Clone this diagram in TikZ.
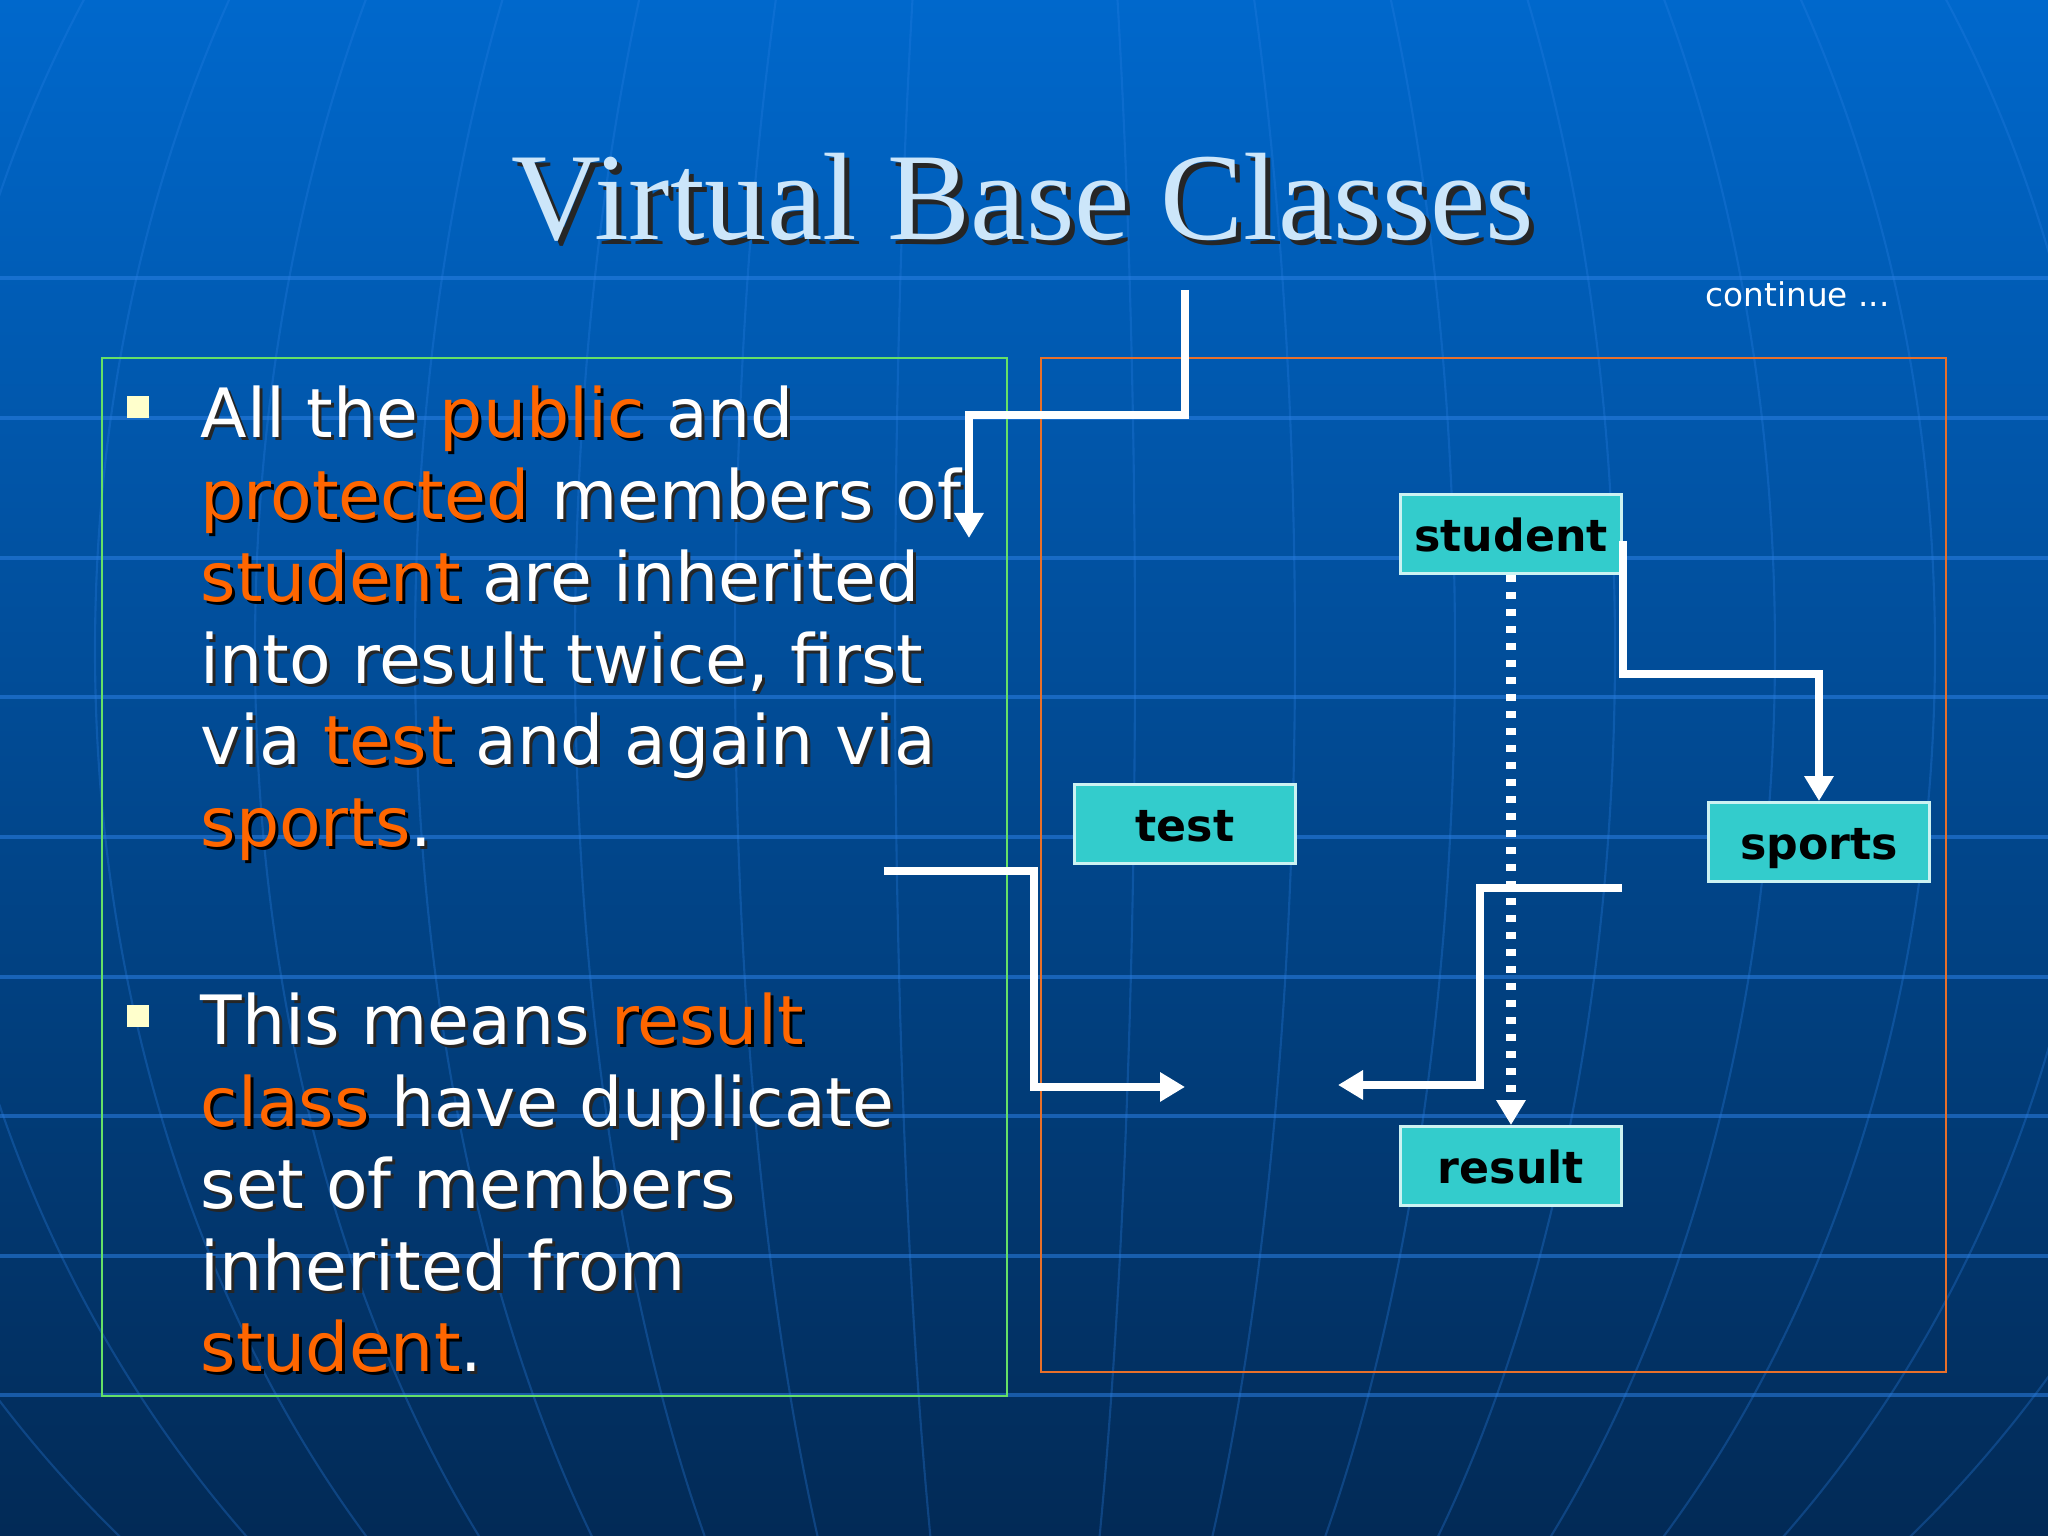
\documentclass[tikz,border=0pt]{standalone}
\usepackage{fontspec}
\setmainfont{DejaVu Sans}
\newfontfamily\titlefont{Liberation Serif}
\usetikzlibrary{arrows.meta,positioning}
\definecolor{bgtop}{HTML}{0068CC}
\definecolor{bgbot}{HTML}{022A56}
\definecolor{gridblue}{HTML}{2B80E4}
\definecolor{stitle}{HTML}{CCE6FA}
\definecolor{sorange}{HTML}{FF6600}
\definecolor{sgreen}{HTML}{66E066}
\definecolor{sframe}{HTML}{E8702A}
\definecolor{sbox}{HTML}{33CCCC}
\definecolor{sbullet}{HTML}{FFFFCC}
\colorlet{accent}{sorange}
\newcommand{\hl}[1]{\textcolor{accent}{#1}}
\newcommand{\pointone}{\parbox[t]{8.5cm}{\raggedright All the \hl{public} and\\
  \hl{protected} members of\\ \hl{student} are inherited\\ into result twice, first\\
  via \hl{test} and again via\\ \hl{sports}.}}
\newcommand{\pointtwo}{\parbox[t]{8.5cm}{\raggedright This means \hl{result}\\
  \hl{class} have duplicate\\ set of members\\ inherited from\\ \hl{student}.}}

\begin{document}
\begin{tikzpicture}[
  txt/.style={anchor=base west, inner sep=0pt, text=white, font=\fontsize{19.35}{23.25}\selectfont},
  drop/.style={text=black!85},
  heading/.style={anchor=base, inner sep=0pt, text=stitle, font=\titlefont\fontsize{35.4}{42}\selectfont},
  cls/.style={draw=white!75!sbox, line width=0.8pt, fill=sbox, minimum width=2.21cm, minimum height=0.79cm, inner sep=0pt, text height=0.45cm, text depth=0.10cm, font=\bfseries\fontsize{12.6}{15}\selectfont},
  sq/.style={fill=sbullet, minimum size=0.22cm, inner sep=0pt},
  arr/.style={white, line width=2.4pt, -{Triangle[width=0.28cm, length=0.25cm]}},
  dotarr/.style={arr, line width=2.6pt, dash pattern=on 0.07cm off 0.10cm},
  latline/.style={gridblue, line width=1pt, opacity=0.55},
  lonline/.style={gridblue, line width=0.6pt, opacity=0.3},
]
  \useasboundingbox (0,0) rectangle (20.48,15.36);
  \fill[top color=bgtop, bottom color=bgbot] (0,0) rectangle (20.48,15.36);

  \begin{scope}
    \clip (0,0) rectangle (20.48,15.36);
    \foreach \y in {12.58,11.18,9.78,8.39,6.99,5.59,4.20,2.80,1.41}
      \draw[latline] (0,\y) -- (20.48,\y);
    \foreach \r in {1.2,2.8,4.4,6.0,7.6,9.2,10.9,12.7}
      \draw[lonline] (10.15,8.86) ellipse [x radius=\r, y radius=12.5];
  \end{scope}

  \node[heading, drop] at (10.28,12.91) {Virtual Base Classes};
  \node[heading] (title) at (10.23,12.96) {Virtual Base Classes};
  \node[anchor=base west, inner sep=0pt, text=white, font=\fontsize{9.3}{11}\selectfont] (cont) at (17.05,12.29) {continue ...};

  \draw[sgreen, line width=0.7pt] (1.02,1.40) rectangle (10.07,11.78);
  \draw[sframe, line width=0.7pt] (10.41,1.64) rectangle (19.46,11.78);

  \node[sq] (dot1) at (1.38,11.29) {};
  \node[txt, drop] at (2.03,10.95) {\colorlet{accent}{black}\pointone};
  \node[txt] (one) at (2.00,10.98) {\pointone};
  \node[sq] (dot2) at (1.38,5.20) {};
  \node[txt, drop] at (2.03,4.88) {\colorlet{accent}{black}\pointtwo};
  \node[txt] (two) at (2.00,4.91) {\pointtwo};

  \node[cls] (student) at (15.11,10.02) {student};
  \node[cls] (test) at (11.85,7.12) {test};
  \node[cls] (sports) at (18.19,6.94) {sports};
  \node[cls] (result) at (15.11,3.70) {result};

  \coordinate (topin) at (11.85,12.46);
  \coordinate (topout) at (9.69,9.98);
  \coordinate (testin) at (8.835,6.65);
  \coordinate (testout) at (11.85,4.49);
  \coordinate (sportsin) at (16.22,6.48);
  \coordinate (sportsout) at (13.38,4.51);

  \draw[arr] (topin) -- ++(0,-1.25) -| (topout);
  \draw[arr] ([yshift=-0.07cm]student.east) -- ++(0,-1.33) -| (sports.north);
  \draw[dotarr] (student.south) -- (result.north);
  \draw[arr] (testin) -- ++(1.505,0) |- (testout);
  \draw[arr] (sportsin) -- ++(-1.42,0) |- (sportsout);
\end{tikzpicture}
\end{document}
